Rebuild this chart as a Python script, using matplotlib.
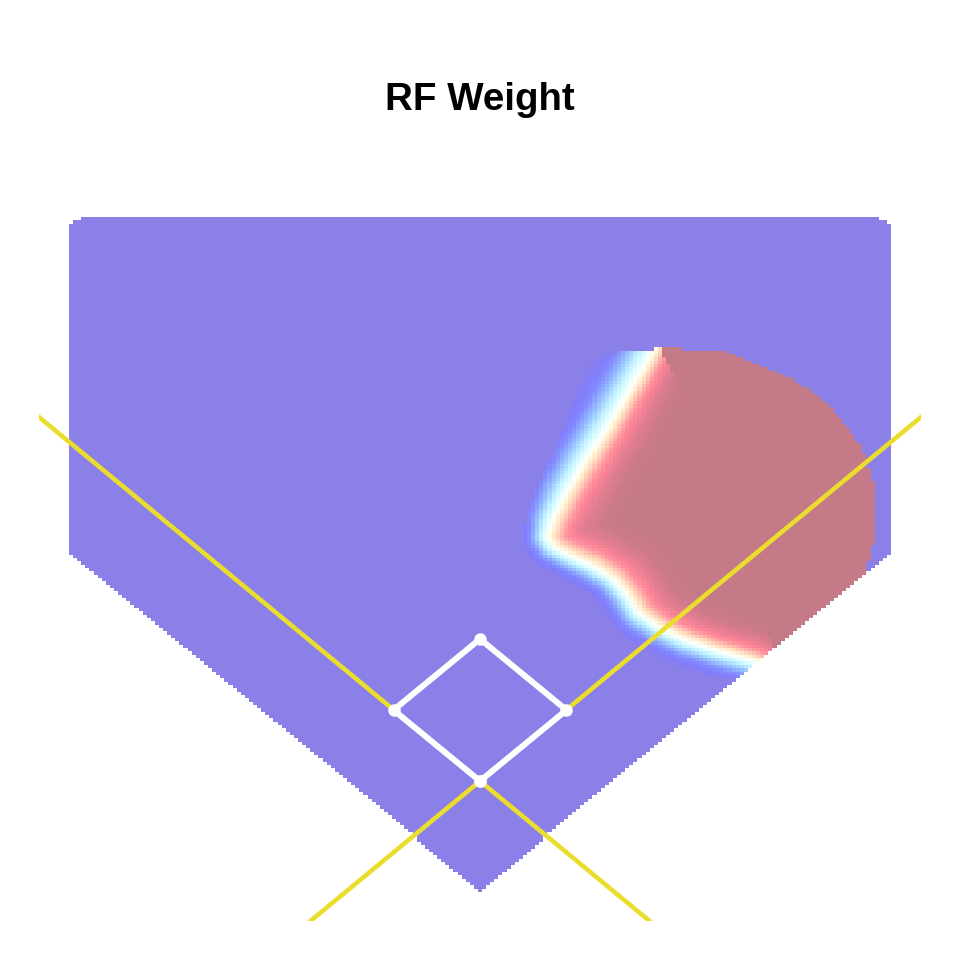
import numpy as np
import matplotlib
matplotlib.use('Agg')
import matplotlib.pyplot as plt
from matplotlib.colors import LinearSegmentedColormap
from matplotlib.path import Path

# all positions in feet from home plate
foul_x = [-330, 330]
foul_y = [331.9, -331.9]
base_x = [0, 63.6, 0, -63.6, 0]
base_y = [0, 63.6, 127.3, 63.6, 0]

# line where the weight crosses one half
ridge_x = [128.7, 119.9, 108.1, 93.4, 78.7, 64.0, 53.7, 50.0, 55.1, 66.2,
           83.1, 97.8, 108.1, 117.6, 132.4, 152.2, 174.3, 200.7, 208.1]
ridge_y = [387.1, 368.3, 344.1, 314.5, 287.6, 258.1, 233.9, 218.6, 209.7, 202.5,
           193.5, 181.9, 168.5, 150.5, 138.0, 126.3, 117.4, 108.4, 103.9]
# how far the fade reaches on each side of that line
blue_width = [40, 40, 40, 39, 37, 34, 28, 23, 23, 24, 25, 25, 26, 26, 26, 26, 26, 26, 26]
red_width = [36, 38, 40, 44, 46, 48, 48, 48, 48, 48, 48, 48, 46, 44, 42, 40, 38, 36, 36]

# outline of the cells with any weight at all
blob_x = [106.6, 97.8, 82.4, 69.9, 55.1, 36.8, 30.9, 36.8, 80.9, 106.6, 147.1, 194.9,
          235.3, 279.4, 283.8, 283.8, 286.8, 286.8, 290.4, 290.4, 286.8, 280.9, 272.1,
          259.6, 250.0, 239.0, 230.1, 218.4, 205.9, 193.4, 183.8, 172.8, 148.5, 148.5,
          133.8, 128.7]
blob_y = [387.1, 383.5, 377.2, 345.9, 296.6, 247.3, 217.7, 198.0, 166.7, 126.3, 101.3, 88.7,
          81.5, 126.3, 184.6, 196.2, 196.2, 211.5, 211.5, 262.5, 276.9, 298.4, 314.5,
          332.4, 343.2, 353.0, 359.3, 366.5, 372.8, 379.0, 383.5, 387.1, 387.1, 389.8,
          389.8, 387.1]

# parts of the blob with full weight up to a hard edge
flat_top_x = [133.8, 136.0, 139.8, 142.0, 145.6, 145.6, 149.3, 150.7, 205.9, 205.9]
flat_top_y = [389.8, 377.2, 370.9, 365.5, 357.5, 347.6, 341.4, 329.7, 329.7, 395.0]
flat_low_x = [208.1, 211.0, 214.7, 219.1, 257.4, 257.4, 208.1]
flat_low_y = [147.0, 138.0, 124.6, 108.4, 108.4, 162.2, 162.2]

# weight scale, 0 = outside, 0.5 = ridge, 1 = full
weight_stops = [0, 0.05, 0.125, 0.2, 0.29, 0.375, 0.44, 0.485, 0.5, 0.535, 0.575, 0.625,
                0.675, 0.75, 0.85, 1]
weight_colors = ['#8B7FE8', '#877DF0', '#827DFA', '#828CFF', '#96BEFF', '#BEF0FF', '#E1FFFF',
                 '#FFFFFF', '#FFFFEB', '#FFEBCD', '#FFC8B4', '#FF96A0', '#FA8296', '#E17D91',
                 '#CD7A8A', '#C57A87']

title = 'RF Weight'
line_yellow = '#EBDD2E'

cells_x = np.linspace(-302.25, 302.25, 202)
cells_y = np.linspace(-99.5, 505.4, 203)
X, Y = np.meshgrid((cells_x[:-1] + cells_x[1:]) / 2, (cells_y[:-1] + cells_y[1:]) / 2)
pts = np.column_stack([X.ravel(), Y.ravel()])

# distance of each cell to the ridge
rx, ry = np.array(ridge_x), np.array(ridge_y)
ax0, ay0 = rx[:-1], ry[:-1]
sx, sy = np.diff(rx), np.diff(ry)
px = pts[:, 0][:, None]
py = pts[:, 1][:, None]
t = np.clip(((px - ax0) * sx + (py - ay0) * sy) / (sx ** 2 + sy ** 2), 0, 1)
dist = np.hypot(px - ax0 - t * sx, py - ay0 - t * sy)
near = dist.argmin(axis=1)
rows = np.arange(len(pts))
d = dist[rows, near]
tn = t[rows, near]
bw = np.array(blue_width, float)
rw = np.array(red_width, float)
bw_here = bw[near] + tn * (bw[near + 1] - bw[near])
rw_here = rw[near] + tn * (rw[near + 1] - rw[near])

red_side = Path(np.column_stack([rx.tolist() + [400, 400, 128.7],
                                 ry.tolist() + [60, 450, 450]])).contains_points(pts)
weight = np.where(red_side, 0.5 + 0.5 * np.clip(d / rw_here, 0, 1),
                  0.5 - 0.5 * np.clip(d / bw_here, 0, 1))

in_blob = Path(np.column_stack([blob_x, blob_y])).contains_points(pts)
weight[~in_blob] = 0
weight[Path(np.column_stack([flat_top_x, flat_top_y])).contains_points(pts) & in_blob] = 1
weight[Path(np.column_stack([flat_low_x, flat_low_y])).contains_points(pts) & in_blob] = 1

# only the home plate shaped part of the grid is filled
weight = weight.reshape(X.shape)
weight = np.ma.masked_where((Y < np.abs(X) - 98.2) |
                            ((np.abs(X) > 293.5) & (Y > 502.4)) |
                            ((np.abs(X) > 299) & (Y > 499.4)), weight)

cmap = LinearSegmentedColormap.from_list('rf', list(zip(weight_stops, weight_colors)), N=512)

fig = plt.figure(figsize=(9.6, 9.6), dpi=100)
ax = fig.add_axes([39 / 960, 39 / 960, 882 / 960, 882 / 960])
ax.pcolormesh(cells_x, cells_y, weight, cmap=cmap, vmin=0, vmax=1, antialiased=False, linewidth=0)

ax.plot(foul_x, foul_y, color=line_yellow, lw=3.3, solid_capstyle='butt')
ax.plot(foul_x, foul_y[::-1], color=line_yellow, lw=3.3, solid_capstyle='butt')
ax.plot(base_x, base_y, color='white', lw=4.3, marker='o', ms=9, mew=0)

ax.set_xlim(-324.3, 324.3)
ax.set_ylim(-125.4, 664.9)
ax.axis('off')
fig.text(0.5, 1 - 100 / 960, title, ha='center', va='center', fontsize=27.7,
         fontweight='bold', family='Liberation Sans')

fig.savefig('out.png', dpi=100)
